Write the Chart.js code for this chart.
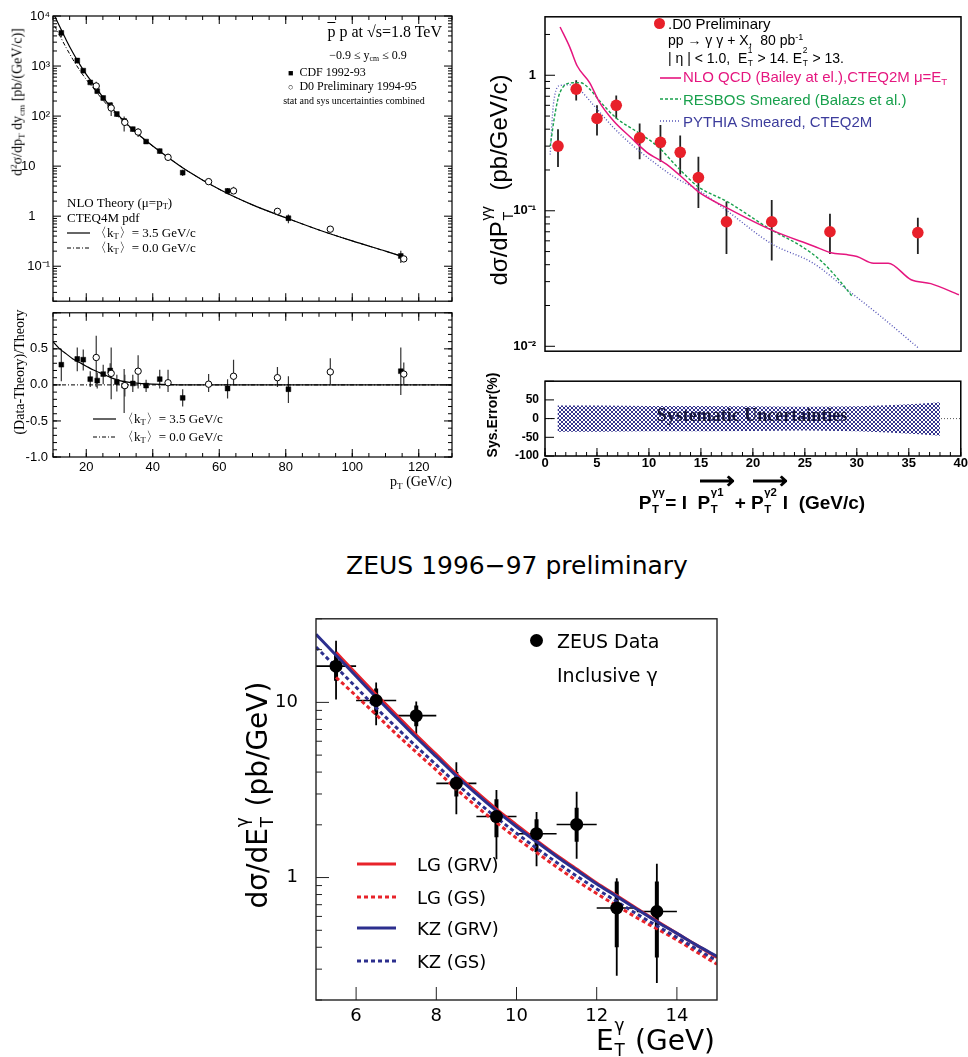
<!DOCTYPE html>
<html><head><meta charset="utf-8">
<script src="https://cdn.jsdelivr.net/npm/chart.js@4.4.1/dist/chart.umd.min.js"></script>
<style>
html,body{margin:0;padding:0;background:#fff;}
#wrap{position:relative;width:968px;height:1057px;overflow:hidden;background:#fff;}
#wrap canvas{position:absolute;}
.t{position:absolute;white-space:nowrap;line-height:1;color:#000;z-index:5;}
.serif{font-family:"Liberation Serif","Times New Roman",serif;}
.sans{font-family:"Liberation Sans",Arial,sans-serif;}
.dv{font-family:"DejaVu Sans",sans-serif;}
.vc{transform:translateY(-50%);}
.cc{transform:translate(-50%,-50%);}
.rot{transform:translate(-50%,-50%) rotate(-90deg);}
.sb{font-size:0.65em;vertical-align:-0.3em;}
.sp{font-size:0.65em;vertical-align:0.55em;}
.stk{display:inline-block;position:relative;width:0.45em;height:1em;}
.stk>i{font-style:normal;position:absolute;left:0.05em;font-size:0.6em;line-height:1;}
.stk>i.u{top:-0.3em;}
.stk>i.d{bottom:-0.55em;}
.arr{position:relative;display:inline-block;}
.arr::before{content:"\27F6";position:absolute;left:0.05em;top:-0.85em;font-size:1.3em;font-weight:bold;}
svg.lg{position:absolute;overflow:visible;z-index:5;}
.dot{position:absolute;border-radius:50%;z-index:5;}
</style></head>
<body>
<div id="wrap">
<canvas id="cA1" width="480" height="312" style="left:0;top:0"></canvas>
<canvas id="cA2" width="480" height="200" style="left:0;top:300px"></canvas>
<canvas id="cB1" width="488" height="368" style="left:480px;top:0"></canvas>
<canvas id="cB2" width="488" height="160" style="left:480px;top:368px"></canvas>
<canvas id="cC" width="510" height="467" style="left:230px;top:590px"></canvas>

<!-- Panel A texts -->
<div class="t serif rot" style="left:18px;top:102px;font-size:14px;">d<span class="sp">2</span>σ/dp<span class="sb">T</span> dy<span class="sb">cm</span> [pb/(GeV/c)]</div>
<div class="t serif" style="right:526px;top:24px;font-size:16px;"><span style="text-decoration:overline">p</span> p at √s=1.8 TeV</div>
<div class="t serif cc" style="left:368px;top:56px;font-size:12px;">−0.9 ≤ y<span class="sb">cm</span> ≤ 0.9</div>
<div class="t serif vc" style="left:288px;top:72px;font-size:12px;"><span style="font-size:9px">■</span>&nbsp; CDF 1992-93</div>
<div class="t serif vc" style="left:288px;top:86px;font-size:12px;"><span style="font-size:9px">○</span>&nbsp; D0 Preliminary 1994-95</div>
<div class="t serif cc" style="left:354px;top:101px;font-size:10px;">stat and sys uncertainties combined</div>
<div class="t serif vc" style="left:67px;top:203px;font-size:13px;">NLO Theory (μ=p<span class="sb">T</span>)</div>
<div class="t serif vc" style="left:67px;top:217px;font-size:13px;">CTEQ4M pdf</div>
<div class="t serif vc" style="left:94px;top:233px;font-size:13px;">〈k<span class="sb">T</span>〉= 3.5 GeV/c</div>
<div class="t serif vc" style="left:94px;top:248px;font-size:13px;">〈k<span class="sb">T</span>〉= 0.0 GeV/c</div>
<svg class="lg" style="left:0;top:0" width="1" height="1">
  <line x1="67" y1="233" x2="90" y2="233" stroke="#000" stroke-width="1.2"/>
  <line x1="67" y1="248" x2="90" y2="248" stroke="#000" stroke-width="1" stroke-dasharray="4,2,1,2"/>
  <line x1="93" y1="419" x2="116" y2="419" stroke="#000" stroke-width="1.2"/>
  <line x1="93" y1="437" x2="116" y2="437" stroke="#000" stroke-width="1" stroke-dasharray="4,2,1,2"/>
</svg>
<div class="t serif rot" style="left:20px;top:372px;font-size:14px;">(Data-Theory)/Theory</div>
<div class="t serif vc" style="left:121px;top:419px;font-size:13px;">〈k<span class="sb">T</span>〉= 3.5 GeV/c</div>
<div class="t serif vc" style="left:121px;top:437px;font-size:13px;">〈k<span class="sb">T</span>〉= 0.0 GeV/c</div>
<div class="t serif" style="right:516px;top:475px;font-size:14px;">p<span class="sb">T</span> (GeV/c)</div>

<!-- Panel B texts -->
<div class="t sans rot" style="left:497px;top:180px;font-size:24px;">dσ/dP<span class="stk"><i class="u">γγ</i><i class="d">T</i></span>&nbsp;&nbsp; (pb/GeV/c)</div>
<div class="dot" style="left:654px;top:18px;width:11px;height:11px;background:#e8202a;"></div>
<div class="t sans vc" style="left:668px;top:23px;font-size:15px;">.D0 Preliminary</div>
<div class="t sans vc" style="left:668px;top:40px;font-size:14px;">pp → γ γ + X,&nbsp; 80 pb<span class="sp">-1</span></div>
<div class="t sans vc" style="left:668px;top:57px;font-size:14px;">| η | &lt; 1.0,&nbsp; E<span class="stk"><i class="u">1</i><i class="d">T</i></span> &gt; 14. E<span class="stk"><i class="u">2</i><i class="d">T</i></span> &gt; 13.</div>
<svg class="lg" style="left:0;top:0" width="1" height="1">
  <line x1="660" y1="78" x2="681" y2="78" stroke="#e5167f" stroke-width="1.6"/>
  <line x1="660" y1="99" x2="681" y2="99" stroke="#18a04c" stroke-width="1.4" stroke-dasharray="3,2"/>
  <line x1="660" y1="121" x2="681" y2="121" stroke="#5555b8" stroke-width="1.4" stroke-dasharray="1,2"/>
</svg>
<div class="t sans vc" style="left:683px;top:78px;font-size:15px;color:#e5167f;">NLO QCD (Bailey at el.),CTEQ2M μ=E<span class="sb">T</span></div>
<div class="t sans vc" style="left:683px;top:99px;font-size:15px;color:#18a04c;">RESBOS Smeared (Balazs et al.)</div>
<div class="t sans vc" style="left:683px;top:121px;font-size:15px;color:#3c3c9c;">PYTHIA Smeared, CTEQ2M</div>
<div class="t sans rot" style="left:492px;top:415px;font-size:14px;font-weight:bold;">Sys.Error(%)</div>
<div class="t serif cc" style="left:752px;top:415px;font-size:18px;font-weight:bold;color:#16163a;">Systematic Uncertainties</div>
<div class="t sans cc" style="left:752px;top:501px;font-size:19px;font-weight:bold;">P<span class="stk"><i class="u">γγ</i><i class="d">T</i></span>&nbsp;= I&nbsp; <span class="arr">P<span class="stk"><i class="u">γ1</i><i class="d">T</i></span></span>&nbsp;&nbsp; + <span class="arr">P<span class="stk"><i class="u">γ2</i><i class="d">T</i></span></span>&nbsp; I&nbsp; (GeV/c)</div>

<!-- Panel C texts -->
<div class="t dv cc" style="left:517px;top:565px;font-size:25px;">ZEUS 1996−97 preliminary</div>
<div class="t dv rot" style="left:255px;top:795px;font-size:28px;">dσ/dE<span class="stk"><i class="u">γ</i><i class="d">T</i></span> (pb/GeV)</div>
<div class="t dv" style="right:253px;top:1022px;font-size:28px;">E<span class="stk"><i class="u">γ</i><i class="d">T</i></span> (GeV)</div>
<div class="dot" style="left:530px;top:634px;width:13px;height:13px;background:#000;"></div>
<div class="t dv vc" style="left:557px;top:641px;font-size:19px;">ZEUS Data</div>
<div class="t dv vc" style="left:557px;top:675px;font-size:19px;">Inclusive γ</div>
<svg class="lg" style="left:0;top:0" width="1" height="1">
  <line x1="357" y1="864" x2="396" y2="864" stroke="#e8232a" stroke-width="3"/>
  <line x1="357" y1="897" x2="396" y2="897" stroke="#e8232a" stroke-width="3" stroke-dasharray="4,3"/>
  <line x1="357" y1="928" x2="396" y2="928" stroke="#2c2f8e" stroke-width="3"/>
  <line x1="357" y1="961" x2="396" y2="961" stroke="#2c2f8e" stroke-width="3" stroke-dasharray="4,3"/>
</svg>
<div class="t dv vc" style="left:417px;top:865px;font-size:18px;">LG (GRV)</div>
<div class="t dv vc" style="left:417px;top:898px;font-size:18px;">LG (GS)</div>
<div class="t dv vc" style="left:417px;top:929px;font-size:18px;">KZ (GRV)</div>
<div class="t dv vc" style="left:417px;top:962px;font-size:18px;">KZ (GS)</div>
</div>

<script>
// ================= DATA =================
// Panel A: isolated photon cross section, CDF & D0, ppbar 1.8 TeV
const cdfPt    = [12.5,17.3,19.1,21.2,23.3,25.1,27.2,29.2,31.4,34,38,42.1,49,62.5,80.8,114.6];
const cdfXsec  = [4600,1290,810,470,315,230,165,110,80,55,31,20,7.4,3.2,0.91,0.16];
const cdfRes   = [0.28,0.36,0.35,0.08,0.06,0.15,0.2,0.04,-0.01,0.02,-0.01,0.08,-0.18,-0.05,-0.06,0.19];
const cdfResHi = [0.5,0.52,0.49,0.19,0.17,0.28,0.3,0.14,0.22,0.14,0.07,0.21,-0.06,0.08,0.12,0.52];
const cdfResLo = [0.05,0.19,0.2,-0.03,-0.05,0.01,0.1,-0.09,-0.39,-0.1,-0.1,-0.05,-0.3,-0.19,-0.25,-0.14];
const d0Pt     = [23,27.5,31.6,35.6,44.6,56.8,64.3,77.5,93.4,115.5];
const d0Xsec   = [400,145,75,48,15,4.9,3.2,1.25,0.55,0.14];
const d0Res    = [0.38,0.16,-0.01,0.19,0.03,0.01,0.12,0.10,0.18,0.15];
const d0ResHi  = [0.68,0.52,0.14,0.41,0.21,0.15,0.35,0.25,0.37,0.31];
const d0ResLo  = [-0.03,-0.2,-0.16,-0.05,-0.1,-0.1,0.0,-0.03,0.01,0.01];
const thPt     = [10.5,12,14,16,18,20,22,25,28,31,35,40,45,50,60,70,80,90,100,110,116];
const thKt35   = [9950,6150,3290,1840,1090,680,450,240,136,84,47,25.3,14.3,8.4,3.45,1.68,0.93,0.53,0.32,0.2,0.15];
const thKt00   = [6300,4100,2300,1350,830,540,370,210,125,80,46,25,14.3,8.4,3.45,1.68,0.93,0.53,0.32,0.2,0.15];
const resCurvePt   = [10,12,14,16,18,20,22,24,26,28,30,33,36,40,45,50,130];
const resCurveKt35 = [0.6,0.5,0.43,0.36,0.31,0.26,0.21,0.17,0.13,0.09,0.06,0.035,0.02,0.01,0.003,0,0];
const resZeroPt    = [10,130];
const resZeroVal   = [0,0];
const aXTicks  = [20,40,60,80,100,120];
const aYTicks  = [0.1,1,10,100,1000,10000];
const aYLabels = ['10⁻¹','1\u2007\u2007','10\u2007\u2007','10²','10³','10⁴'];
const aRTicks  = [-1,-0.5,0,0.5];
const aRLabels = ['-1.0','-0.5','0.0','0.5'];

// Panel B: D0 diphoton pT
const ggPt    = [1.25,3.0,5.0,6.85,9.1,11.1,13.0,14.75,17.45,21.8,27.4,35.85];
const ggXsec  = [0.30,0.79,0.48,0.60,0.345,0.32,0.27,0.176,0.083,0.083,0.070,0.069];
const ggErrHi = [0.40,0.92,0.60,0.71,0.44,0.43,0.36,0.25,0.117,0.12,0.095,0.089];
const ggErrLo = [0.21,0.65,0.36,0.48,0.24,0.23,0.185,0.105,0.048,0.043,0.048,0.048];
const nloPt   = [1.45,2.4,3.1,4.3,5.2,6.6,8.2,9.8,11.7,14,14.75,17.5,21.8,25.8,27.5,29,30,31.6,33,35.2,37.1,39.8];
const nloVal  = [2.27,1.6,1.17,0.88,0.64,0.46,0.35,0.27,0.22,0.155,0.138,0.105,0.072,0.055,0.049,0.0475,0.046,0.041,0.041,0.031,0.029,0.024];
const resbosPt  = [0.5,1.0,1.45,2.7,3.4,4.3,5.3,6.9,8.9,10.8,13,14.75,17.5,21.8,24.6,26.5,28.4,29.6];
const resbosVal = [0.30,0.54,0.75,0.88,0.88,0.79,0.64,0.48,0.38,0.30,0.20,0.15,0.117,0.072,0.055,0.043,0.030,0.023];
const pythiaPt  = [0.5,0.8,1.45,2.4,3.4,4.6,6.6,8.5,10.4,12.5,14.75,17.5,21.8,25.8,29.1,32.3,35.85];
const pythiaVal = [0.26,0.6,0.84,0.85,0.77,0.61,0.41,0.30,0.23,0.176,0.142,0.10,0.057,0.041,0.026,0.0166,0.0098];
const sysPt  = [1.2,5,10,15,20,25,30,33,36,38];
const sysUp  = [35,35,34,34,33,32,33,36,40,44];
const sysLo  = [-35,-35,-34,-34,-33,-32,-34,-37,-42,-46];
const bXTicks = [0,5,10,15,20,25,30,35,40];
const bYTicks = [0.01,0.1,1];
const bYLabels = ['10⁻²','10⁻¹','1'];
const bSTicks = [-100,-50,0,50];

// Panel C: ZEUS inclusive prompt photon
const zeusEt    = [5.5,6.5,7.5,8.5,9.5,10.5,11.5,12.5,13.5];
const zeusXsec  = [16.1,10.25,8.4,3.45,2.23,1.78,2.01,0.67,0.64];
const zeusTotLo = [10.4,7.4,6.5,2.3,1.27,1.16,1.28,0.275,0.25];
const zeusTotHi = [22.5,13,10.1,4.55,3.16,2.37,3.09,0.99,1.2];
const zeusStatLo= [13.3,8.5,7.3,2.9,1.7,1.4,1.6,0.4,0.35];
const zeusStatHi= [19,12,9.6,4.0,2.8,2.15,2.5,0.95,0.95];
const zeusEtLo  = [5,6,7,8,9,10,11,12,13];
const zeusEtHi  = [6,7,8,9,10,11,12,13,14];
const thEt      = [5,5.5,6,6.5,7,7.5,8,8.5,9,9.5,10,10.5,11,11.5,12,12.5,13,13.5,14,14.5,15];
const kzGRV = [24.5,18.6,14.1,10.7,8.2,6.3,4.9,3.8,3.0,2.4,1.95,1.6,1.32,1.1,0.92,0.78,0.66,0.56,0.48,0.41,0.355];
const lgGRV = [null,19.3,14.6,11.1,8.5,6.5,5.05,3.9,3.08,2.46,2.0,1.63,1.34,1.12,0.93,0.79,0.665,0.565,0.48,0.41,0.35];
const kzGS  = [20.7,15.9,12.2,9.3,7.2,5.6,4.4,3.45,2.73,2.2,1.79,1.47,1.22,1.02,0.86,0.73,0.62,0.53,0.455,0.39,0.335];
const lgGS  = [null,13.9,10.9,8.5,6.6,5.2,4.1,3.2,2.55,2.06,1.68,1.39,1.15,0.96,0.81,0.69,0.59,0.51,0.44,0.375,0.32];
const cXTicks = [6,8,10,12,14];
const cYTicks = [1,10];

// ================= HELPERS =================
Chart.defaults.animation = false;
Chart.defaults.font.family = '"Liberation Sans", Arial, sans-serif';
Chart.defaults.color = '#000';
function P(xs, ys){ return xs.map((x,i)=>({x:x, y:ys[i]})).filter(p=>p.y!==null); }
function range(a,b,s){ const r=[]; for(let v=a; v<=b+1e-9; v+=s) r.push(+v.toFixed(6)); return r; }
function logMinor(e0,e1,lo,hi){ const r=[]; for(let e=e0;e<=e1;e++) for(let k=2;k<=9;k++){ const v=k*Math.pow(10,e); if(v>=lo&&v<=hi) r.push(v);} return r; }
function line(xs, ys, color, width, dash, extra){
  return Object.assign({data:P(xs,ys), showLine:true, borderColor:color, borderWidth:width, borderDash:dash||[],
    pointRadius:0, fill:false, cubicInterpolationMode:'monotone'}, extra||{});
}
function xAxis(type,min,max,vals,labels,font,pad,h,show){
  return {type, min, max, position:'bottom',
    grid:{display:false, drawTicks:false}, border:{display:false},
    ticks:{display:show, autoSkip:false, maxRotation:0, minRotation:0, padding:pad, font, color:'#000',
      callback:(v)=>{ const i=vals.indexOf(v); return i<0?'':(labels?labels[i]:String(v)); }},
    afterBuildTicks:(s)=>{ s.ticks = vals.map(v=>({value:v})); },
    afterFit:(s)=>{ s.height = h; }};
}
function yAxis(type,min,max,vals,labels,font,pad,w){
  return {type, min, max, position:'left',
    grid:{display:false, drawTicks:false}, border:{display:false},
    ticks:{display:true, autoSkip:false, padding:pad, font, color:'#000',
      callback:(v)=>{ const i=vals.findIndex(t=>Math.abs(t-v)<1e-9*Math.max(1,Math.abs(t))); return i<0?'':(labels?labels[i]:String(v)); }},
    afterBuildTicks:(s)=>{ s.ticks = vals.map(v=>({value:v})); },
    afterFit:(s)=>{ s.width = w; }};
}

const deco = {};
const decoPlugin = {
  id:'deco',
  beforeDatasetsDraw(chart){
    const d = deco[chart.canvas.id]; if(!d) return;
    const ctx=chart.ctx, ca=chart.chartArea, xs=chart.scales.x, ys=chart.scales.y;
    ctx.save();
    ctx.beginPath(); ctx.rect(ca.left,ca.top,ca.right-ca.left,ca.bottom-ca.top); ctx.clip();
    (d.hlines||[]).forEach(h=>{
      ctx.strokeStyle=h.color; ctx.lineWidth=h.width; ctx.setLineDash(h.dash||[]);
      const py=ys.getPixelForValue(h.y);
      ctx.beginPath(); ctx.moveTo(ca.left,py); ctx.lineTo(ca.right,py); ctx.stroke();
    });
    ctx.setLineDash([]);
    (d.bars||[]).forEach(b=>{
      ctx.strokeStyle=b.color; ctx.lineWidth=b.width; ctx.lineCap='butt';
      b.x.forEach((xv,i)=>{
        const px=xs.getPixelForValue(xv), py=ys.getPixelForValue(b.y?b.y[i]:0);
        if(b.lo){ ctx.beginPath(); ctx.moveTo(px,ys.getPixelForValue(b.lo[i])); ctx.lineTo(px,ys.getPixelForValue(b.hi[i])); ctx.stroke(); }
        if(b.xlo){ ctx.beginPath(); ctx.moveTo(xs.getPixelForValue(b.xlo[i]),py); ctx.lineTo(xs.getPixelForValue(b.xhi[i]),py); ctx.stroke(); }
      });
    });
    ctx.restore();
  },
  afterDatasetsDraw(chart){
    const d = deco[chart.canvas.id]; if(!d) return;
    const ctx=chart.ctx, ca=chart.chartArea;
    ctx.save(); ctx.setLineDash([]);
    (d.ticks||[]).forEach(t=>{
      const sc=chart.scales[t.axis];
      ctx.strokeStyle=d.color||'#000'; ctx.lineWidth=t.width||1;
      t.vals.forEach(v=>{
        const p=sc.getPixelForValue(v);
        if(t.axis==='x'){
          if(p<ca.left-0.5||p>ca.right+0.5) return;
          t.sides.forEach(s=>{ ctx.beginPath();
            if(s==='bottom'){ctx.moveTo(p,ca.bottom);ctx.lineTo(p,ca.bottom-t.len);} else {ctx.moveTo(p,ca.top);ctx.lineTo(p,ca.top+t.len);}
            ctx.stroke(); });
        } else {
          if(p<ca.top-0.5||p>ca.bottom+0.5) return;
          t.sides.forEach(s=>{ ctx.beginPath();
            if(s==='left'){ctx.moveTo(ca.left,p);ctx.lineTo(ca.left+t.len,p);} else {ctx.moveTo(ca.right,p);ctx.lineTo(ca.right-t.len,p);}
            ctx.stroke(); });
        }
      });
    });
    ctx.strokeStyle=d.color||'#000'; ctx.lineWidth=d.frame;
    ctx.strokeRect(ca.left,ca.top,ca.right-ca.left,ca.bottom-ca.top);
    ctx.restore();
  }
};
Chart.register(decoPlugin);
const basePlugins = {legend:{display:false}, tooltip:{enabled:false}};

// ================= PANEL A (upper) =================
const cdfTopHi = cdfXsec.map((y,i)=>y*(1+cdfResHi[i])/(1+cdfRes[i]));
const cdfTopLo = cdfXsec.map((y,i)=>y*(1+cdfResLo[i])/(1+cdfRes[i]));
const d0TopHi  = d0Xsec.map((y,i)=>y*(1+d0ResHi[i])/(1+d0Res[i]));
const d0TopLo  = d0Xsec.map((y,i)=>y*(1+d0ResLo[i])/(1+d0Res[i]));
deco.cA1 = { frame:1.2, color:'#000',
  bars:[ {x:cdfPt, lo:cdfTopLo, hi:cdfTopHi, color:'#333', width:1.2},
         {x:d0Pt, lo:d0TopLo, hi:d0TopHi, color:'#333', width:1.2} ],
  ticks:[ {axis:'x', vals:aXTicks, len:8, sides:['bottom','top']},
          {axis:'x', vals:range(10,130,5), len:4, sides:['bottom','top']},
          {axis:'y', vals:aYTicks, len:8, sides:['left','right']},
          {axis:'y', vals:logMinor(-2,3,0.02,10000), len:4, sides:['left','right']} ] };
new Chart(document.getElementById('cA1'), {
  type:'scatter',
  data:{datasets:[
    {data:P(d0Pt,d0Xsec), pointStyle:'circle', pointRadius:3.2, backgroundColor:'#fff', borderColor:'#000', borderWidth:1},
    {data:P(cdfPt,cdfXsec), pointStyle:'rect', pointRadius:3.4, backgroundColor:'#000', borderColor:'#000', borderWidth:0.5},
    line(thPt, thKt35, '#000', 1.2),
    line(thPt, thKt00, '#000', 1, [4,2,1,2]),
  ]},
  options:{responsive:false, animation:false, events:[],
    layout:{padding:{top:16, right:28, left:0, bottom:0}},
    scales:{ x:xAxis('linear',10,130,aXTicks,null,{size:13},3,8,false),
             y:yAxis('logarithmic',0.02,10000,aYTicks,aYLabels,{size:13},3,53) },
    plugins:basePlugins}
});

// ================= PANEL A (lower) =================
deco.cA2 = { frame:1.2, color:'#000',
  bars:[ {x:cdfPt, lo:cdfResLo, hi:cdfResHi, color:'#333', width:1.2},
         {x:d0Pt, lo:d0ResLo, hi:d0ResHi, color:'#333', width:1.2} ],
  ticks:[ {axis:'x', vals:aXTicks, len:8, sides:['bottom','top']},
          {axis:'x', vals:range(10,130,5), len:4, sides:['bottom','top']},
          {axis:'y', vals:[-1,-0.5,0,0.5,1], len:8, sides:['left','right']},
          {axis:'y', vals:range(-1,1,0.1), len:4, sides:['left','right']} ] };
new Chart(document.getElementById('cA2'), {
  type:'scatter',
  data:{datasets:[
    {data:P(d0Pt,d0Res), pointStyle:'circle', pointRadius:3.2, backgroundColor:'#fff', borderColor:'#000', borderWidth:1},
    {data:P(cdfPt,cdfRes), pointStyle:'rect', pointRadius:3.4, backgroundColor:'#000', borderColor:'#000', borderWidth:0.5},
    line(resCurvePt, resCurveKt35, '#000', 1.2),
    line(resZeroPt, resZeroVal, '#000', 1, [4,2,1,2]),
  ]},
  options:{responsive:false, animation:false, events:[],
    layout:{padding:{top:7, right:28, left:0, bottom:0}},
    scales:{ x:xAxis('linear',10,130,aXTicks,null,{size:13},3,43,true),
             y:yAxis('linear',-1,1,aRTicks,aRLabels,{size:13},5,53) },
    plugins:basePlugins}
});

// ================= PANEL B (upper) =================
deco.cB1 = { frame:1.5, color:'#000',
  bars:[ {x:ggPt, lo:ggErrLo, hi:ggErrHi, color:'#222', width:1.8} ],
  ticks:[ {axis:'y', vals:bYTicks, len:10, sides:['left']},
          {axis:'y', vals:logMinor(-3,0,0.0092,2.7), len:5, sides:['left']} ] };
new Chart(document.getElementById('cB1'), {
  type:'scatter',
  data:{datasets:[
    {data:P(ggPt,ggXsec), pointStyle:'circle', pointRadius:5.8, backgroundColor:'#e8202a', borderColor:'#e8202a', borderWidth:0},
    line(nloPt, nloVal, '#e5167f', 1.5),
    line(resbosPt, resbosVal, '#18a04c', 1.4, [3,2]),
    line(pythiaPt, pythiaVal, '#5555b8', 1.4, [1,2]),
  ]},
  options:{responsive:false, animation:false, events:[],
    layout:{padding:{top:11, right:7, left:0, bottom:0}},
    scales:{ x:xAxis('linear',0,40,bXTicks,null,{size:13},1,5,false),
             y:yAxis('logarithmic',0.0092,2.7,bYTicks,bYLabels,{size:13, weight:'bold'},9,65) },
    plugins:basePlugins}
});

// ================= PANEL B (lower) =================
const cB2 = document.getElementById('cB2');
const tile = document.createElement('canvas'); tile.width=4; tile.height=4;
const tg = tile.getContext('2d'); tg.fillStyle='#fff'; tg.fillRect(0,0,4,4); tg.fillStyle='#34348e';
[[0,0],[1,1],[2,2],[3,3],[3,0],[2,1],[1,2],[0,3]].forEach(p=>tg.fillRect(p[0],p[1],1,1));
const hatch = cB2.getContext('2d').createPattern(tile,'repeat');
deco.cB2 = { frame:1.5, color:'#000',
  hlines:[ {y:0, color:'#555', width:1, dash:[1,2]} ],
  ticks:[ {axis:'x', vals:bXTicks, len:8, sides:['bottom']},
          {axis:'x', vals:range(0,40,1), len:4, sides:['bottom']},
          {axis:'y', vals:[-100,-50,0,50,100], len:9, sides:['left']} ] };
new Chart(cB2, {
  type:'scatter',
  data:{datasets:[
    {data:P(sysPt,sysUp), showLine:true, borderWidth:0, borderColor:'rgba(0,0,0,0)', pointRadius:0, fill:'+1', backgroundColor:hatch},
    {data:P(sysPt,sysLo), showLine:true, borderWidth:0, borderColor:'rgba(0,0,0,0)', pointRadius:0, fill:false},
  ]},
  options:{responsive:false, animation:false, events:[],
    layout:{padding:{top:5, right:7, left:0, bottom:0}},
    scales:{ x:xAxis('linear',0,40,bXTicks,null,{size:13, weight:'bold'},0,72,true),
             y:yAxis('linear',-100,100,bSTicks,null,{size:12, weight:'bold'},6,65) },
    plugins:Object.assign({filler:{propagate:false}}, basePlugins)}
});

// ================= PANEL C =================
deco.cC = { frame:1.4, color:'#222',
  bars:[ {x:zeusEt, lo:zeusTotLo, hi:zeusTotHi, color:'#000', width:1.8},
         {x:zeusEt, lo:zeusStatLo, hi:zeusStatHi, color:'#000', width:4},
         {x:zeusEt, y:zeusXsec, xlo:zeusEtLo, xhi:zeusEtHi, color:'#000', width:1.6} ],
  ticks:[ {axis:'x', vals:cXTicks, len:13, sides:['bottom']},
          {axis:'y', vals:cYTicks, len:13, sides:['left']},
          {axis:'y', vals:logMinor(-1,1,0.2,30), len:6, sides:['left']} ] };
new Chart(document.getElementById('cC'), {
  type:'scatter',
  data:{datasets:[
    {data:P(zeusEt,zeusXsec), pointStyle:'circle', pointRadius:6.5, backgroundColor:'#000', borderColor:'#000', borderWidth:0},
    line(thEt, kzGRV, '#2c2f8e', 3),
    line(thEt, lgGRV, '#e8232a', 3),
    line(thEt, kzGS, '#2c2f8e', 3, [4,3]),
    line(thEt, lgGS, '#e8232a', 3, [4,3]),
  ]},
  options:{responsive:false, animation:false, events:[],
    layout:{padding:{top:10, right:23, left:0, bottom:0}},
    scales:{ x:xAxis('linear',5,15,cXTicks,null,{size:18, family:'"DejaVu Sans", sans-serif'},6,57,true),
             y:yAxis('logarithmic',0.2,30,cYTicks,null,{size:18, family:'"DejaVu Sans", sans-serif'},18,86) },
    plugins:basePlugins}
});
</script>
</body></html>
